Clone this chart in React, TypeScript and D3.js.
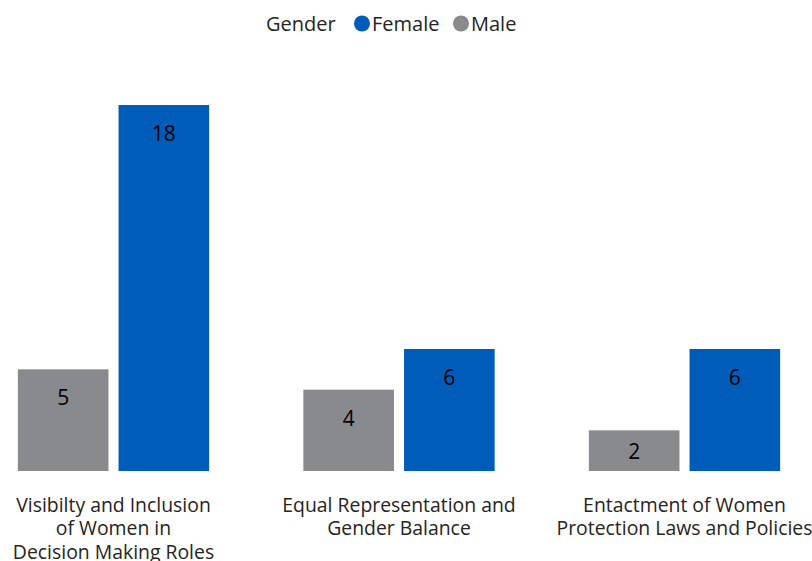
import React from "react";
import * as d3 from "d3";

const categories: string[][] = [
  ["Visibilty and Inclusion", "of Women in", "Decision Making Roles"],
  ["Equal Representation and", "Gender Balance"],
  ["Entactment of Women", "Protection Laws and Policies"],
];
const seriesNames = ["Male", "Female"];
const maleValues = [5, 4, 2];
const femaleValues = [18, 6, 6];
const colors: Record<string, string> = { Male: "#898a8d", Female: "#005cb9" };
const legendTitle = "Gender";
const legendOrder = ["Female", "Male"];

const W = 812;
const H = 561;
const FONT = "'Segoe UI', 'Open Sans', 'Noto Sans', sans-serif";

export default function App() {
  const keys = categories.map((c) => c.join(" "));
  const x0 = d3
    .scaleBand<string>()
    .domain(keys)
    .range([-29.25, 827.25])
    .paddingInner(0.33)
    .paddingOuter(0.165);
  const x1 = d3
    .scaleBand<string>()
    .domain(seriesNames)
    .range([0, x0.bandwidth()])
    .paddingInner(0.1)
    .paddingOuter(0);
  const y = d3.scaleLinear().domain([0, 18]).range([471, 105]);

  const values: Record<string, number[]> = { Male: maleValues, Female: femaleValues };

  return (
    <div style={{ position: "absolute", left: 0, top: 0 }}>
      <svg width={W} height={H} style={{ display: "block", fontFamily: FONT }}>
        <rect width={W} height={H} fill="#fff" />
        {/* legend */}
        <g>
          <text x={266} y={30.5} fontSize={20} fill="#252423">
            {legendTitle}
          </text>
          <circle cx={362} cy={23.5} r={8} fill={colors[legendOrder[0]]} />
          <text x={372} y={30.5} fontSize={20} fill="#252423">
            {legendOrder[0]}
          </text>
          <circle cx={461} cy={23.5} r={8} fill={colors[legendOrder[1]]} />
          <text x={471} y={30.5} fontSize={20} fill="#252423">
            {legendOrder[1]}
          </text>
        </g>
        {keys.map((k, i) => {
          const gx = x0(k)!;
          return (
            <g key={k} transform={`translate(${gx},0)`}>
              {seriesNames.map((s) => {
                const v = values[s][i];
                const top = y(v);
                const bottom = y(0);
                const bx = x1(s)!;
                const ly = Math.min(top + 36, (top + bottom) / 2 + 8);
                return (
                  <g key={s}>
                    <rect
                      x={bx}
                      y={top}
                      width={x1.bandwidth()}
                      height={bottom - top}
                      fill={colors[s]}
                    />
                    <text
                      x={bx + x1.bandwidth() / 2}
                      y={ly}
                      textAnchor="middle"
                      fontSize={21}
                      fill="#000"
                    >
                      {v}
                    </text>
                  </g>
                );
              })}
              {categories[i].map((line, j) => (
                <text
                  key={j}
                  x={x0.bandwidth() / 2}
                  y={511.5 + j * 23.5}
                  textAnchor="middle"
                  fontSize={19.4}
                  fill="#252423"
                >
                  {line}
                </text>
              ))}
            </g>
          );
        })}
      </svg>
    </div>
  );
}
